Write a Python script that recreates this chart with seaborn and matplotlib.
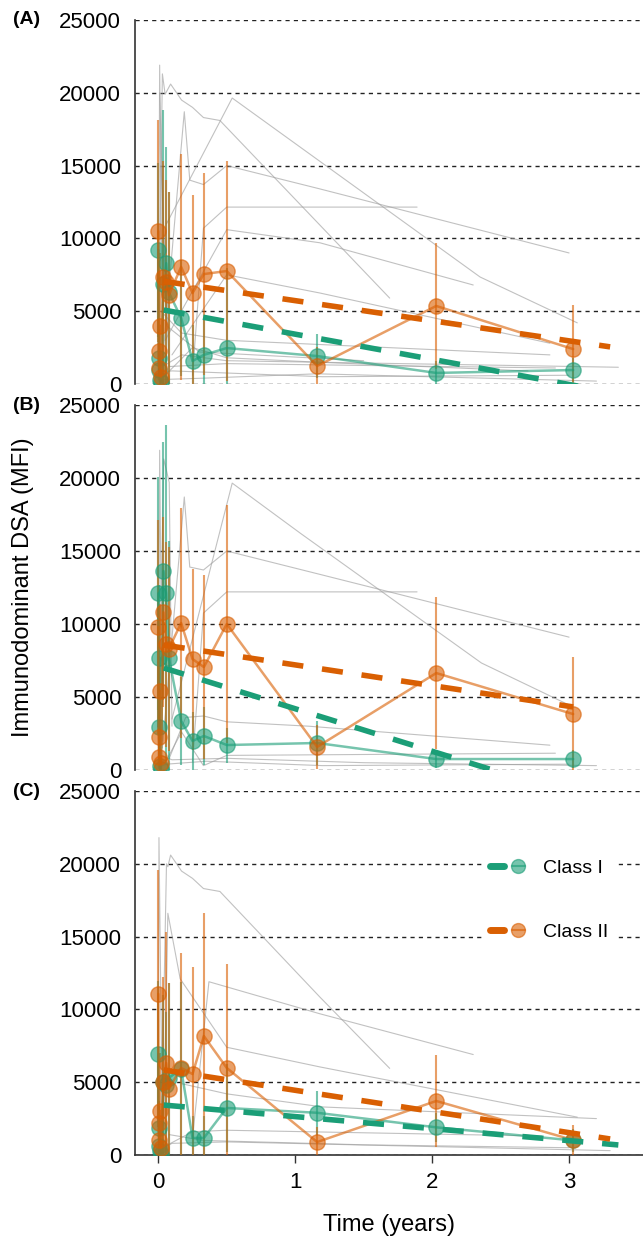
import matplotlib
matplotlib.use("Agg")
import matplotlib.pyplot as plt
import pandas as pd
import seaborn as sns
from matplotlib.lines import Line2D
from matplotlib.legend_handler import HandlerTuple

# time points (years) of the group means
TIME = [0, 0.003, 0.008, 0.014, 0.019, 0.038, 0.058, 0.077,
        0.167, 0.25, 0.333, 0.5, 1.16, 2.03, 3.03]

# panel A
A_CLASS1 = [9200, 1800, 950, 300, 150, 6900, 8300, 6300, 4530, 1580, 2000, 2470, 1920, 760, 960]
A_CLASS1_SD = [6000, 1000, 500, 300, 200, 11900, 8000, 6900, 4000, 2500, 2500, 5500, 1500, 800, 800]
A_CLASS2 = [10500, 2300, 1100, 4000, 500, 7350, 7000, 6100, 8040, 6250, 7550, 7760, 1240, 5360, 2400]
A_CLASS2_SD = [7600, 1500, 800, 5000, 400, 8000, 7000, 7100, 7760, 6750, 6950, 7540, 1300, 4340, 3030]

# panel B
B_CLASS1 = [12100, 2950, 7700, 300, 50, 13630, 12100, 7700, 3360, 1990, 2330, 1710, 1850, 750, 750]
B_CLASS1_SD = [8000, 2000, 5000, 300, 100, 8840, 11500, 8000, 3000, 2000, 2000, 1200, 1500, 600, 600]
B_CLASS2 = [9800, 2260, 900, 5400, 500, 10800, 8600, 8300, 10070, 7600, 7050, 10000, 1580, 6640, 3830]
B_CLASS2_SD = [7300, 1500, 800, 6000, 400, 6500, 7000, 7000, 7900, 6200, 6300, 8150, 1500, 5210, 3900]

# panel C
C_CLASS1 = [6940, 1850, 600, 300, 100, 5000, 4800, 5300, 5900, 1170, 1170, 3230, 2900, 1900, 1000]
C_CLASS1_SD = [5000, 1500, 500, 300, 100, 6000, 5000, 6500, 6000, 1500, 1500, 3000, 1500, 1000, 800]
C_CLASS2 = [11060, 2200, 1000, 3020, 500, 5010, 6320, 4530, 5980, 5560, 8170, 5980, 890, 3710, 1030]
C_CLASS2_SD = [8500, 1500, 800, 4000, 400, 7200, 9000, 7300, 7900, 7350, 8450, 7120, 1000, 3160, 1030]

# fitted trends: (t_start, value_start, t_end, value_end)
A_TREND1 = (0.04, 5080, 3.3, -550)
A_TREND2 = (0.04, 7050, 3.3, 2550)
B_TREND1 = (0.04, 6990, 3.3, -2500)
B_TREND2 = (0.04, 8560, 3.03, 4320)
C_TREND1 = (0.04, 3430, 3.36, 690)
C_TREND2 = (0.04, 5840, 3.3, 1100)

# individual patient trajectories (times, values)
A_PATIENTS = [
    ([0.0, 0.01, 0.03], [200, 21900, 3000]),
    ([0.0, 0.03, 0.05, 0.09, 0.17, 0.25, 0.33, 0.45, 1.69],
     [1000, 21300, 19900, 20600, 19500, 19000, 18300, 18100, 5900]),
    ([0.06, 0.54, 2.35, 3.06], [11000, 19640, 7350, 4200]),
    ([0.03, 0.19, 0.23, 0.33, 0.5, 1.18, 3.0], [1500, 18700, 14000, 13700, 15000, 13400, 9000]),
    ([0.25, 0.33, 0.5, 1.89], [600, 10700, 12150, 12150]),
    ([0.05, 0.5, 1.18, 2.3], [3000, 10600, 9700, 6800]),
    ([0.1, 0.5, 1.18, 2.86], [2000, 7500, 6250, 2800]),
    ([0.02, 0.17, 0.5, 2.86], [5000, 3500, 3000, 2000]),
    ([0.0, 0.17, 0.5, 3.36], [1000, 2000, 1600, 1150]),
    ([0.04, 0.25, 0.5, 1.16, 2.7], [500, 2500, 1800, 1500, 900]),
    ([0.0, 0.33, 1.16, 3.2], [300, 400, 700, 200]),
    ([0.02, 0.08, 0.5, 2.9], [15000, 1200, 1400, 1100]),
    ([0.01, 0.06, 0.3, 1.5], [20000, 4000, 2200, 1600]),
    ([0.0, 0.1, 1.2, 3.0], [800, 900, 500, 600]),
]
B_PATIENTS = [
    ([0.0, 0.01, 0.03], [300, 21900, 2000]),
    ([0.0, 0.04, 0.08, 0.1], [500, 21300, 19700, 3000]),
    ([0.1, 0.54, 1.04, 2.36, 3.0], [3500, 19650, 16200, 7330, 4450]),
    ([0.03, 0.19, 0.23, 0.33, 0.5, 1.18, 3.0], [1500, 18700, 13900, 13700, 15000, 13400, 9100]),
    ([0.25, 0.33, 0.5, 1.89], [600, 10750, 12200, 12200]),
    ([0.08, 0.2, 0.33, 0.5, 1.1, 2.86], [800, 3600, 3700, 3300, 3000, 1700]),
    ([0.05, 0.17, 0.33, 0.5, 2.9], [500, 2600, 300, 1000, 1150]),
    ([0.02, 0.1, 0.5, 1.5, 3.2], [1000, 700, 800, 500, 300]),
    ([0.0, 0.06, 0.35, 1.2, 3.0], [200, 400, 600, 300, 400]),
]
C_PATIENTS = [
    ([0.0, 0.005, 0.03], [300, 21800, 1500]),
    ([0.02, 0.06, 0.07, 0.09, 0.17, 0.25, 0.33, 0.45, 1.18, 1.69],
     [500, 20000, 19800, 20600, 19500, 19000, 18300, 18100, 10850, 5950]),
    ([0.04, 0.07, 0.16, 0.5, 1.18, 3.06], [2000, 16600, 12100, 7400, 6050, 2600]),
    ([0.25, 0.37, 1.18, 2.3], [1200, 11900, 9700, 6900]),
    ([0.17, 0.5, 1.2, 3.2], [4900, 4200, 3300, 2500]),
    ([0.05, 0.25, 0.5, 2.8], [600, 1600, 1700, 1300]),
    ([0.0, 0.1, 0.5, 3.3], [300, 800, 900, 300]),
    ([0.08, 0.33, 1.5, 3.0], [1400, 1000, 700, 500]),
]

PANEL_LABELS = ["(A)", "(B)", "(C)"]
GREEN = "#1b9e77"
ORANGE = "#d95f02"

sns.set_style("white")
plt.rcParams["font.family"] = ["Liberation Sans", "DejaVu Sans"]
plt.rcParams["text.color"] = "black"
plt.rcParams["xtick.color"] = "black"
plt.rcParams["ytick.color"] = "black"
plt.rcParams["axes.labelcolor"] = "black"

panels = [
    (A_PATIENTS, A_CLASS1, A_CLASS1_SD, A_CLASS2, A_CLASS2_SD, A_TREND1, A_TREND2),
    (B_PATIENTS, B_CLASS1, B_CLASS1_SD, B_CLASS2, B_CLASS2_SD, B_TREND1, B_TREND2),
    (C_PATIENTS, C_CLASS1, C_CLASS1_SD, C_CLASS2, C_CLASS2_SD, C_TREND1, C_TREND2),
]
# axes boxes in pixels: (top, bottom)
boxes = [(20, 384), (405, 770), (791, 1155)]
W, H = 643, 1238

fig = plt.figure(figsize=(W / 100, H / 100), dpi=100)

for i, (pats, c1, c1sd, c2, c2sd, tr1, tr2) in enumerate(panels):
    top, bot = boxes[i]
    ax = fig.add_axes([135 / W, (H - bot) / H, 1 - 135 / W, (bot - top) / H])

    # individual patients in grey
    rows = []
    for pid, (ts, vs) in enumerate(pats):
        for t, v in zip(ts, vs):
            rows.append({"pid": pid, "t": t, "v": v})
    df = pd.DataFrame(rows)
    sns.lineplot(data=df, x="t", y="v", units="pid", estimator=None,
                 color="#a0a0a0", lw=0.8, alpha=0.65, ax=ax, zorder=2)

    for vals, sd, col in [(c1, c1sd, GREEN), (c2, c2sd, ORANGE)]:
        ax.errorbar(TIME, vals, yerr=sd, fmt="none", ecolor=col,
                    elinewidth=1.5, alpha=0.6, zorder=3)
        sns.lineplot(x=TIME, y=vals, color=col, lw=1.8, alpha=0.6,
                     marker="o", markersize=11, markeredgecolor=col,
                     markeredgewidth=1, sort=False, ax=ax, zorder=4)

    for tr, col in [(tr1, GREEN), (tr2, ORANGE)]:
        sns.lineplot(x=[tr[0], tr[2]], y=[tr[1], tr[3]], color=col, lw=4,
                     linestyle=(0, (3.8, 3.4)), ax=ax, zorder=5)

    ax.set_xlim(-0.17, 3.54)
    ax.set_ylim(0, 25000)
    ax.set_yticks(range(0, 25001, 5000))
    ax.yaxis.grid(True, linestyle=(0, (3, 3)), color="#222222", lw=1)
    ax.set_axisbelow(True)
    ax.tick_params(axis="y", direction="out", length=7, width=1,
                   color="#333333", labelsize=16, pad=3)
    for s in ["top", "right"]:
        ax.spines[s].set_visible(False)
    ax.spines["left"].set_color("#333333")
    ax.spines["left"].set_linewidth(1.2)
    ax.set_ylabel("")
    ax.set_xlabel("")

    if i < 2:
        ax.spines["bottom"].set_visible(False)
        ax.set_xticks([])
    else:
        ax.spines["bottom"].set_color("#333333")
        ax.spines["bottom"].set_linewidth(1.2)
        ax.set_xticks([0, 1, 2, 3])
        ax.tick_params(axis="x", direction="out", length=6, width=1,
                       color="#333333", labelsize=16, pad=6, bottom=True)
        handles = [
            (Line2D([], [], color=GREEN, lw=5),
             Line2D([], [], color=GREEN, lw=1.5, alpha=0.6, marker="o", markersize=10)),
            (Line2D([], [], color=ORANGE, lw=5),
             Line2D([], [], color=ORANGE, lw=1.5, alpha=0.6, marker="o", markersize=10)),
        ]
        ax.legend(handles, ["Class I", "Class II"], loc="center",
                  bbox_to_anchor=(0.815, 0.70), fontsize=14,
                  labelspacing=2.4, handlelength=1.8, handletextpad=0.9,
                  frameon=True, facecolor="white", edgecolor="none",
                  framealpha=1, handler_map={tuple: HandlerTuple(ndivide=None)})

    fig.text(13 / W, (H - top) / H, PANEL_LABELS[i], fontsize=14,
             fontweight="bold", va="center", ha="left")

fig.text(23 / W, (H - 587) / H, "Immunodominant DSA (MFI)", rotation=90,
         fontsize=17, va="center", ha="center")
fig.text(389 / W, (H - 1225) / H, "Time (years)", fontsize=17,
         va="center", ha="center")

fig.savefig("out.png", dpi=100)
